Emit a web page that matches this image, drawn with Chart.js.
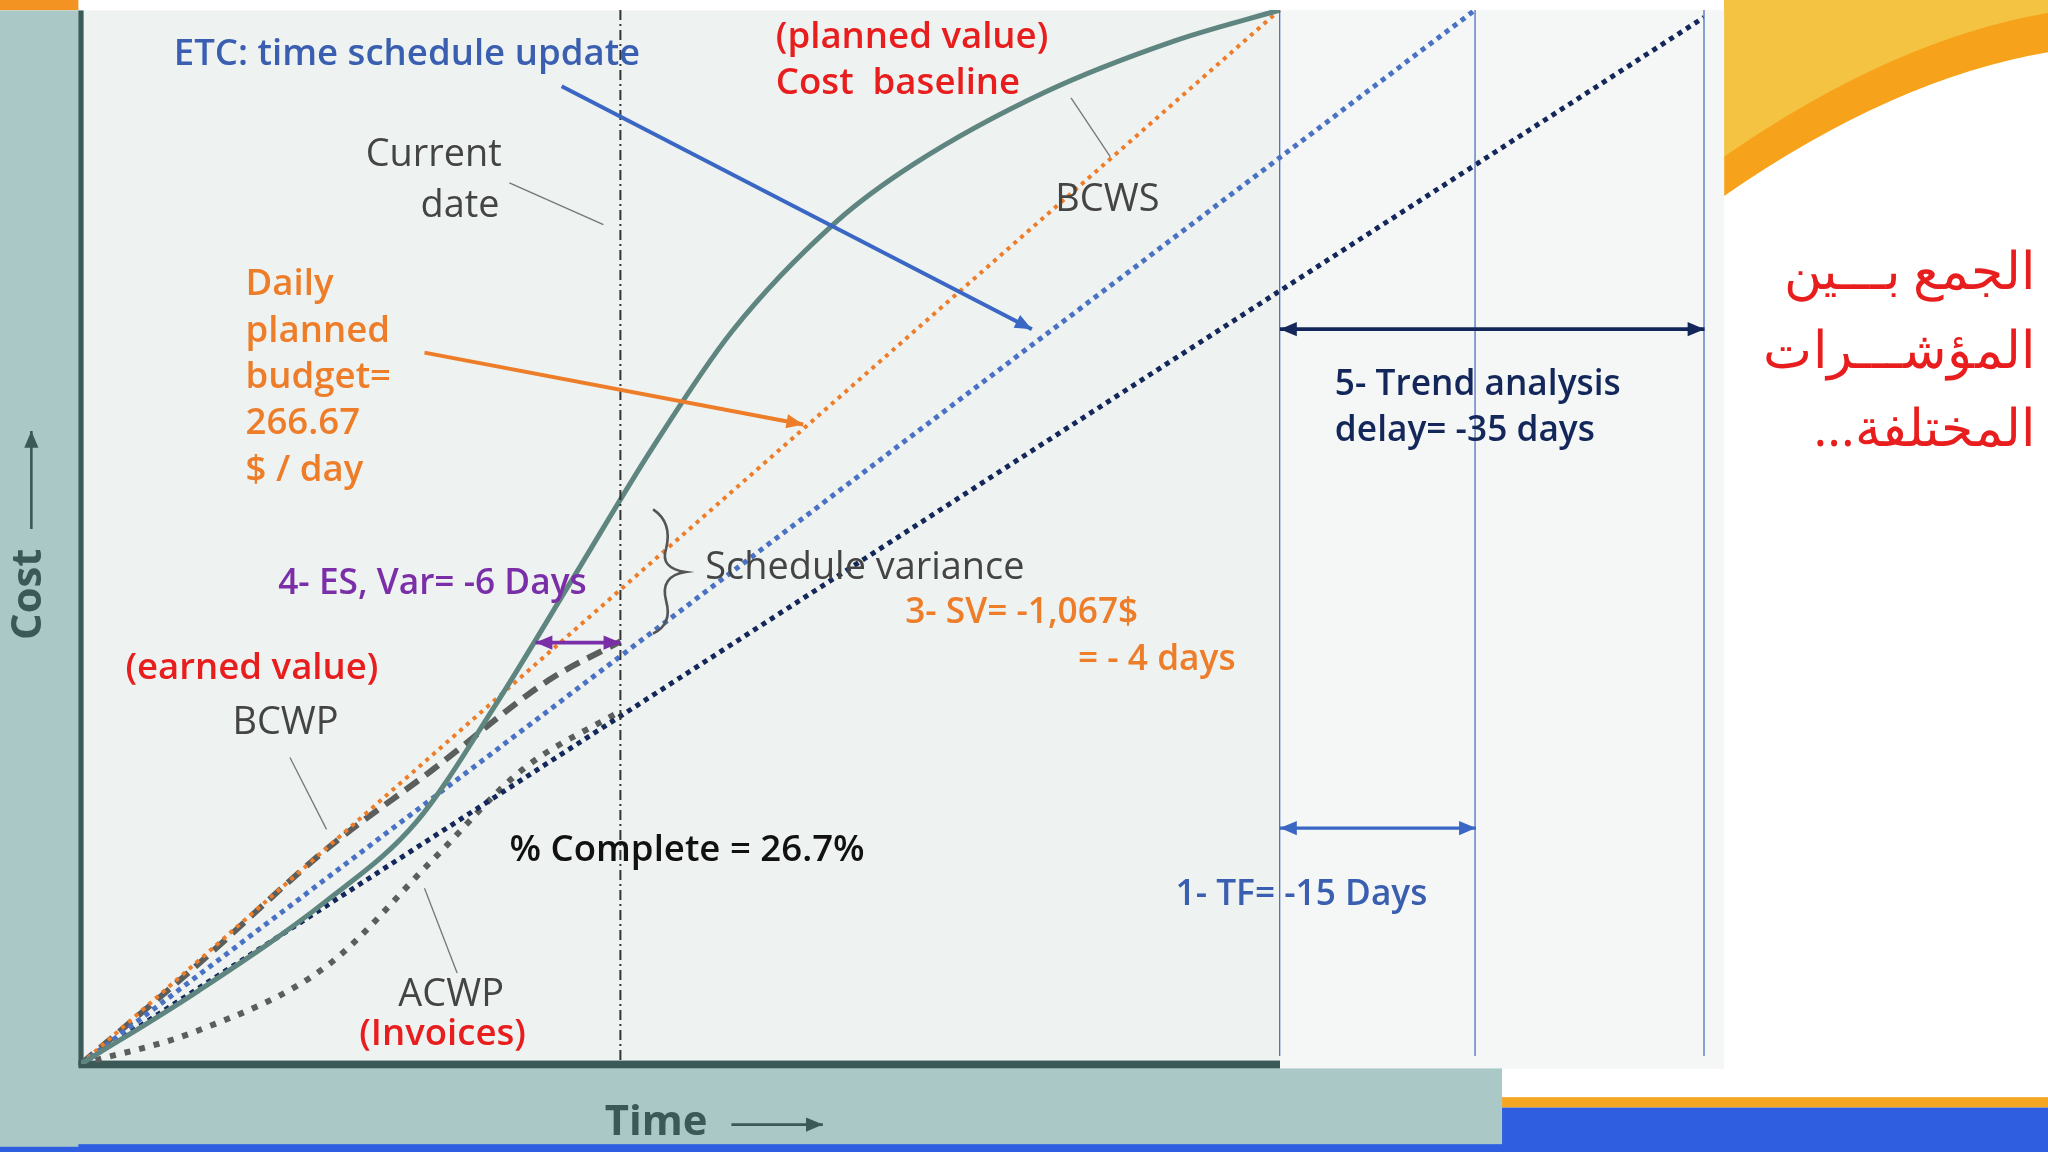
<!DOCTYPE html>
<html><head><meta charset="utf-8">
<script src="https://cdn.jsdelivr.net/npm/chart.js@4"></script>
<style>html,body{margin:0;padding:0;background:#fff;overflow:hidden}canvas{display:block}</style>
</head><body><canvas id="chart" width="2048" height="1152" style="width:2048px;height:1152px"></canvas>
<script>
// x: 0 = start, 100 = planned finish ; y: 0..100 cost share
const bcwsX = [0, 9.6, 20.5, 28, 34.6, 41, 47.7, 54.3, 63, 69.5, 80.4, 91.3, 100];
const bcwsY = [0, 6.8, 15.5, 23, 34.1, 46, 58.5, 69.5, 79.9, 85.4, 92.2, 97.1, 100];
const bcwpX = [0, 9.6, 20.5, 29.2, 39, 45];
const bcwpY = [0, 9.3, 20.4, 27.8, 36.4, 40.1];
const acwpX = [0, 9.6, 20.5, 29.2, 36.8, 45];
const acwpY = [0, 3.1, 9.3, 19.2, 27.9, 33.5];
const baselineX = [0, 100], baselineY = [0, 100];
const etcX = [0, 116.3], etcY = [0, 100];
const trendX = [0, 135.4], trendY = [0, 99.3];
const currentDate = 45;
const finishLines = [100, 116.3, 135.4];

const S = 2048 / 1568;
const pts = (xs, ys) => xs.map((x, i) => ({x: x, y: ys[i]}));

const bgPlugin = {
  id: 'bg',
  beforeDraw(c) {
    const g = c.ctx;
    g.save(); g.scale(S, S);
    g.fillStyle = '#fff'; g.fillRect(0, 0, 1568, 882);
    // orange swoosh
    g.fillStyle = '#f7a21b';
    g.beginPath(); g.moveTo(1320, 150); g.quadraticCurveTo(1450, 60, 1568, 40); g.lineTo(1568, 0); g.lineTo(1320, 0); g.fill();
    g.fillStyle = '#f5c342';
    g.beginPath(); g.moveTo(1320, 120); g.quadraticCurveTo(1450, 30, 1568, 10); g.lineTo(1568, 0); g.lineTo(1320, 0); g.fill();
    g.fillStyle = '#f39422'; g.fillRect(0, 0, 60, 8);
    // bottom band
    g.fillStyle = '#f5a623'; g.fillRect(1150, 840, 418, 8);
    g.fillStyle = '#2f5fe0'; g.fillRect(0, 848, 1568, 34);
    // panels
    g.fillStyle = '#eef2f0'; g.fillRect(0, 8, 1320, 810);
    g.fillStyle = '#f5f7f6'; g.fillRect(980, 8, 340, 810);
    g.fillStyle = '#aac9c6'; g.fillRect(0, 8, 60, 870); g.fillRect(0, 818, 1150, 58);
    g.fillStyle = '#3b5a57'; g.fillRect(60, 812, 920, 6); g.fillRect(60, 8, 4, 808);
    g.restore();
  }
};

function arrow(g, x1, y1, x2, y2, col, w, both) {
  g.strokeStyle = col; g.fillStyle = col; g.lineWidth = w;
  g.beginPath(); g.moveTo(x1, y1); g.lineTo(x2, y2); g.stroke();
  const head = (ax, ay, bx, by) => {
    const a = Math.atan2(by - ay, bx - ax), L = 14;
    g.beginPath(); g.moveTo(bx, by);
    g.lineTo(bx - L * Math.cos(a - 0.4), by - L * Math.sin(a - 0.4));
    g.lineTo(bx - L * Math.cos(a + 0.4), by - L * Math.sin(a + 0.4)); g.fill();
  };
  head(x1, y1, x2, y2); if (both) head(x2, y2, x1, y1);
}

const textPlugin = {
  id: 'texts',
  afterDatasetsDraw(c) {
    const g = c.ctx, xs = c.scales.x, ys = c.scales.y;
    g.save();
    // current date line
    g.strokeStyle = '#333'; g.lineWidth = 2; g.setLineDash([10, 4, 2, 4]);
    g.beginPath(); g.moveTo(xs.getPixelForValue(currentDate), ys.top); g.lineTo(xs.getPixelForValue(currentDate), ys.bottom); g.stroke();
    g.setLineDash([]);
    g.strokeStyle = '#4a72c4'; g.lineWidth = 1.3;
    finishLines.forEach(v => { const px = xs.getPixelForValue(v); g.beginPath(); g.moveTo(px, ys.top); g.lineTo(px, ys.bottom - 8); g.stroke(); });
    g.scale(S, S);
    const T = (s, x, y, col, size, weight, align) => {
      g.font = (weight || '600') + ' ' + size + 'px "Open Sans", sans-serif';
      g.fillStyle = col; g.textAlign = align || 'left'; g.textBaseline = 'middle'; g.fillText(s, x, y);
    };
    // leader lines
    g.strokeStyle = '#777'; g.lineWidth = 1;
    [[390,140,462,172],[820,75,850,120],[222,580,250,635],[325,680,350,745]].forEach(l => { g.beginPath(); g.moveTo(l[0], l[1]); g.lineTo(l[2], l[3]); g.stroke(); });
    // brace
    g.strokeStyle = '#555'; g.lineWidth = 2;
    g.beginPath(); g.moveTo(500, 390); g.quadraticCurveTo(515, 400, 510, 420); g.quadraticCurveTo(505, 435, 525, 438);
    g.quadraticCurveTo(505, 441, 510, 460); g.quadraticCurveTo(515, 478, 500, 485); g.stroke();
    arrow(g, 430, 66, 790, 252, '#3a67c4', 3);
    arrow(g, 325, 270, 615, 325, '#ee7d2a', 3);
    arrow(g, 410, 492, 475, 492, '#7a2fa8', 3, true);
    arrow(g, 980, 252, 1305, 252, '#14275a', 3, true);
    arrow(g, 980, 634, 1130, 634, '#3a67c4', 2.5, true);
    T('ETC: time schedule update', 133, 42, '#3a5fb0', 28, '600');
    T('(planned value)', 594, 29, '#e81e1e', 28, '600');
    T('Cost  baseline', 594, 64, '#e81e1e', 28, '600');
    T('Current', 280, 119, '#444', 29, '400');
    T('date', 322, 158, '#444', 29, '400');
    T('BCWS', 808, 153, '#444', 29, '400');
    ['Daily', 'planned', 'budget=', '266.67', '$ / day'].forEach((s, i) => T(s, 188, 218 + i * 35.5, '#ee7d2a', 28, '600'));
    T('4- ES, Var= -6 Days', 213, 447, '#7a2fa8', 27, '600');
    T('Schedule variance', 540, 435, '#444', 29, '400');
    T('3- SV= -1,067$', 693, 469, '#ee7d2a', 27, '600');
    T('= - 4 days', 946, 505, '#ee7d2a', 27, '600', 'right');
    T('(earned value)', 96, 512, '#e81e1e', 28, '600');
    T('BCWP', 178, 554, '#444', 29, '400');
    T('% Complete = 26.7%', 390, 651, '#111', 28, '600');
    T('ACWP', 305, 762, '#444', 29, '400');
    T('(Invoices)', 275, 792, '#e81e1e', 28, '600');
    T('5- Trend analysis', 1022, 295, '#14275a', 27, '600');
    T('delay= -35 days', 1022, 330, '#14275a', 27, '600');
    T('1- TF= -15 Days', 900, 685, '#3a5fb0', 27, '600');
    T('Time', 463, 860, '#3b5a57', 32, '700');
    arrow(g, 560, 861, 630, 861, '#3b5a57', 2);
    g.save(); g.translate(22, 455); g.rotate(-Math.PI / 2);
    T('Cost', 0, 0, '#3b5a57', 32, '700', 'center'); g.restore();
    arrow(g, 24, 405, 24, 330, '#3b5a57', 2);
    g.direction = 'rtl';
    T('الجمع بـــين', 1558, 210, '#e81e1e', 40, '400', 'right');
    T('المؤشـــرات', 1558, 270, '#e81e1e', 40, '400', 'right');
    T('المختلفة...', 1558, 330, '#e81e1e', 40, '400', 'right');
    g.restore();
  }
};

const ctx = document.getElementById('chart').getContext('2d');
const chart = new Chart(ctx, {
  type: 'line',
  data: {
    datasets: [
      {label: 'BCWS', data: pts(bcwsX, bcwsY), borderColor: '#5f8580', borderWidth: 5, cubicInterpolationMode: 'monotone'},
      {label: 'Baseline', data: pts(baselineX, baselineY), borderColor: '#ee7d2a', borderWidth: 4, borderDash: [4, 5]},
      {label: 'ETC', data: pts(etcX, etcY), borderColor: '#4a72c4', borderWidth: 5, borderDash: [5, 5]},
      {label: 'Trend', data: pts(trendX, trendY), borderColor: '#14275a', borderWidth: 5, borderDash: [5, 5]},
      {label: 'BCWP', data: pts(bcwpX, bcwpY), borderColor: '#5a5f5e', borderWidth: 6, borderDash: [16, 9], cubicInterpolationMode: 'monotone'},
      {label: 'ACWP', data: pts(acwpX, acwpY), borderColor: '#5a5f5e', borderWidth: 6, borderDash: [6, 9], cubicInterpolationMode: 'monotone'}
    ]
  },
  options: {
    responsive: false, maintainAspectRatio: false, animation: false, devicePixelRatio: 1,
    layout: {padding: {left: 81, right: 344, top: 10, bottom: 88}},
    elements: {point: {radius: 0}},
    plugins: {legend: {display: false}, tooltip: {enabled: false}},
    scales: {
      x: {type: 'linear', min: 0, max: 135.4, display: false},
      y: {min: 0, max: 100, display: false}
    }
  },
  plugins: [bgPlugin, textPlugin]
});
</script></body></html>
